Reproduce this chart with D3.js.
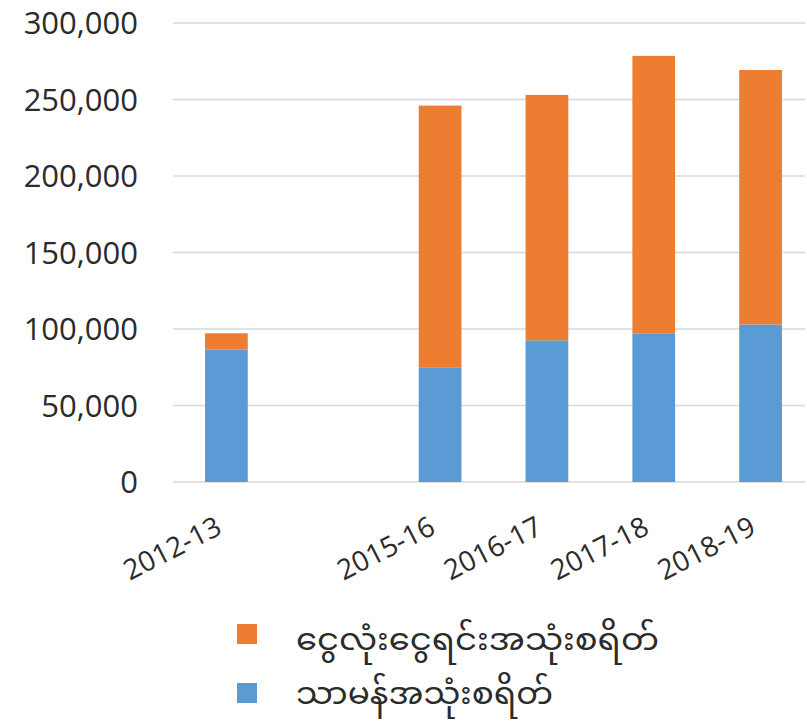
<!DOCTYPE html>
<html>
<head>
<meta charset="utf-8">
<script src="https://cdn.jsdelivr.net/npm/d3@7"></script>
<style>
  body { margin: 0; background: #fff; }
  svg text { font-family: "Open Sans", "Noto Sans", sans-serif; fill: #2b2b2b; }
  .legend text { font-family: "Noto Sans Myanmar", "Padauk", "Myanmar Text", "Noto Sans", sans-serif; }
</style>
</head>
<body>
<script>
const WIDTH = 807;
const HEIGHT = 722;

// one empty slot between 2012-13 and 2015-16, like the source
const years = ["2012-13", "", "2015-16", "2016-17", "2017-18", "2018-19"];
const regular = [86700, null, 75000, 92600, 97200, 103000];
const debtService = [10500, null, 171000, 160400, 181300, 166300];
const seriesNames = ["ငွေလုံးငွေရင်းအသုံးစရိတ်", "သာမန်အသုံးစရိတ်"];
const yTicks = [0, 50000, 100000, 150000, 200000, 250000, 300000];

const margin = {top: 23, left: 173};

const svg = d3.select("body")
              .append("svg")
              .attr("width", WIDTH)
              .attr("height", HEIGHT);

const x = d3.scaleBand()
            .domain(d3.range(years.length))
            .range([margin.left, 814])
            .paddingInner(0.6)
            .paddingOuter(0.3);

const y = d3.scaleLinear()
            .domain([0, 300000])
            .range([482, margin.top]);

const color = d3.scaleOrdinal()
                .domain(["regular", "debt"])
                .range(["#5B9BD5", "#ED7D31"]);

// grid
svg.append("g")
   .selectAll("line")
   .data(yTicks)
   .join("line")
   .attr("x1", margin.left)
   .attr("x2", WIDTH - 2)
   .attr("y1", d => y(d))
   .attr("y2", d => y(d))
   .attr("stroke", "#d9d9d9")
   .attr("stroke-width", 1.5);

// y labels
svg.append("g")
   .selectAll("text")
   .data(yTicks)
   .join("text")
   .attr("x", 138)
   .attr("y", d => y(d))
   .attr("dy", "0.36em")
   .attr("text-anchor", "end")
   .attr("font-size", 31)
   .text(d => d3.format(",")(d));

const rows = years.map((yr, i) => ({i, regular: regular[i], debt: debtService[i]}))
                  .filter(d => d.regular != null);

const stack = d3.stack().keys(["regular", "debt"])(rows);

svg.append("g")
   .selectAll("g")
   .data(stack)
   .join("g")
   .attr("fill", d => color(d.key))
   .selectAll("rect")
   .data(d => d)
   .join("rect")
   .attr("x", d => x(d.data.i))
   .attr("width", x.bandwidth())
   .attr("y", d => y(d[1]))
   .attr("height", d => y(d[0]) - y(d[1]));

// x labels
svg.append("g")
   .selectAll("text")
   .data(years.map((t, i) => ({t, i})).filter(d => d.t))
   .join("text")
   .attr("text-anchor", "end")
   .attr("font-size", 28)
   .attr("transform", d => "translate(" + [x(d.i) + x.bandwidth() / 2 - 3, 533] + ") rotate(-27)")
   .text(d => d.t);

// legend
const legend = svg.append("g").attr("class", "legend");
const legendKeys = ["debt", "regular"];
const legendWidths = [363, 257];

legend.selectAll("rect")
      .data(legendKeys)
      .join("rect")
      .attr("x", 237)
      .attr("y", (d, i) => 624 + i * 59)
      .attr("width", 20)
      .attr("height", 20)
      .attr("fill", d => color(d));

legend.selectAll("text")
      .data(seriesNames)
      .join("text")
      .attr("x", 296)
      .attr("y", (d, i) => 650 + i * 54)
      .attr("font-size", 30)
      .attr("textLength", (d, i) => legendWidths[i])
      .attr("lengthAdjust", "spacingAndGlyphs")
      .text(d => d);
</script>
</body>
</html>
